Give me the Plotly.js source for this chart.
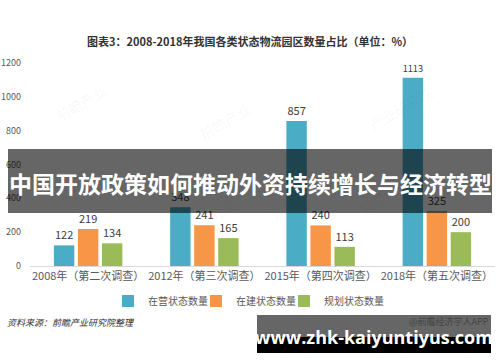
<!DOCTYPE html>
<html>
<head>
<meta charset="utf-8">
<script src="https://cdn.plot.ly/plotly-3.0.1.min.js"></script>
<style>html,body{margin:0;padding:0;background:#fff;}#chart{width:500px;height:362px;}</style>
</head>
<body>
<div id="chart"></div>
<script>
var categories = ["2008年（第二次调查）", "2012年（第三次调查）", "2015年（第四次调查）", "2018年（第五次调查）"];
var seriesNames = ["在营状态数量", "在建状态数量", "规划状态数量"];
var operating = [122, 348, 857, 1113];
var building = [219, 241, 240, 325];
var planned = [134, 165, 113, 200];
var colors = ["#4BACC6", "#F79646", "#9BBB59"];
var yTicks = [0, 200, 400, 600, 800, 1000, 1200];

var font = '"Noto Sans CJK SC", "Microsoft YaHei", sans-serif';
var values = [operating, building, planned];
var legendIds = ['legend', 'legend2', 'legend3'];
var traces = values.map(function (v, i) {
  return {
    type: 'bar', name: seriesNames[i], x: categories, y: v,
    marker: {color: colors[i]}, legend: legendIds[i],
    text: v.map(String), textposition: 'outside', cliponaxis: false,
    textfont: {family: font, size: 11, color: '#404040'},
    hoverinfo: 'none'
  };
});

var wm = 'rgba(0,0,0,0.045)';
function water(x, y, t) {
  return {xref: 'paper', yref: 'paper', x: x, y: y, text: t, showarrow: false,
    textangle: -30, font: {family: font, size: 14, color: wm}};
}
function legendAt(px) {
  return {orientation: 'h', xref: 'container', x: px / 500, xanchor: 'left',
    yref: 'container', y: 1 - 301 / 362, yanchor: 'middle',
    font: {family: font, size: 10, color: '#595959'}, itemwidth: 30,
    bgcolor: 'rgba(0,0,0,0)'};
}

var layout = {
  width: 500, height: 362,
  margin: {l: 30, r: 5, t: 63, b: 96},
  paper_bgcolor: '#fff', plot_bgcolor: '#fff',
  barmode: 'group', bargap: 0.38, bargroupgap: 0.15,
  title: {text: '<b>图表3：2008-2018年我国各类状态物流园区数量占比（单位：%）</b>',
    font: {family: font, size: 11, color: '#333'},
    x: 0.5, xanchor: 'center', xref: 'container', y: 1 - 42 / 362, yanchor: 'middle', yref: 'container'},
  xaxis: {
    tickfont: {family: font, size: 11, color: '#595959'},
    showline: true, linecolor: '#d9d9d9', linewidth: 1,
    ticks: '', showgrid: false, zeroline: false, fixedrange: true
  },
  yaxis: {
    range: [0, 1200], tickvals: yTicks, ticktext: yTicks.map(String),
    tickfont: {family: font, size: 9, color: '#595959'},
    showgrid: false, zeroline: false, showline: false, ticks: '',
    ticklabelstandoff: 8, fixedrange: true
  },
  legend: legendAt(108),
  legend2: legendAt(196),
  legend3: legendAt(284),
  showlegend: true,
  shapes: [
    {type: 'rect', xref: 'paper', yref: 'paper', layer: 'above',
     x0: (8 - 30) / 465, x1: (492 - 30) / 465, y0: (266 - 213) / 203, y1: (266 - 149) / 203,
     fillcolor: 'rgba(0,0,0,0.6)', line: {width: 0}},
    {type: 'rect', xref: 'paper', yref: 'paper', layer: 'above',
     x0: (257 - 30) / 465, x1: (491 - 30) / 465, y0: (266 - 337) / 203, y1: (266 - 315) / 203,
     fillcolor: 'rgba(0,0,0,0.6)', line: {width: 0}},
    {type: 'rect', xref: 'paper', yref: 'paper', layer: 'above',
     x0: (257 - 30) / 465, x1: (491 - 30) / 465, y0: (266 - 353) / 203, y1: (266 - 337) / 203,
     fillcolor: '#000', line: {width: 0}}
  ],
  annotations: [
    water(0.04, 0.93, '前瞻产业'), water(0.42, 0.84, '前瞻产业'),
    water(0.88, 0.92, '产业研究院'), water(0.83, 0.22, '前瞻产业'),
    water(0.40, 0.15, '研究院'),
    {xref: 'paper', yref: 'paper', x: (250 - 30) / 465, y: (266 - 183) / 203,
     text: '<b>中国开放政策如何推动外资持续增长与经济转型</b>', showarrow: false,
     font: {family: font, size: 23, color: '#fff'}, xanchor: 'center', yanchor: 'middle'},
    {xref: 'paper', yref: 'paper', x: (5 - 30) / 465, y: (266 - 322) / 203,
     text: '<i>资料来源：前瞻产业研究院整理</i>', showarrow: false, xanchor: 'left', yanchor: 'middle',
     font: {family: font, size: 9, color: '#333'}},
    {xref: 'paper', yref: 'paper', x: (491 - 30) / 465, y: (266 - 321) / 203,
     text: '@前瞻经济学人APP', showarrow: false, xanchor: 'right', yanchor: 'middle',
     font: {family: font, size: 9, color: '#444'}},
    {xref: 'paper', yref: 'paper', x: (374 - 30) / 465, y: (266 - 337) / 203,
     text: '<b>www.zhk-kaiyuntiyus.com</b>', showarrow: false, xanchor: 'center', yanchor: 'middle',
     font: {family: '"Open Sans", "DejaVu Sans", sans-serif', size: 18, color: '#fff'}}
  ]
};

Plotly.newPlot('chart', traces, layout, {displayModeBar: false, staticPlot: true});
</script>
</body>
</html>
